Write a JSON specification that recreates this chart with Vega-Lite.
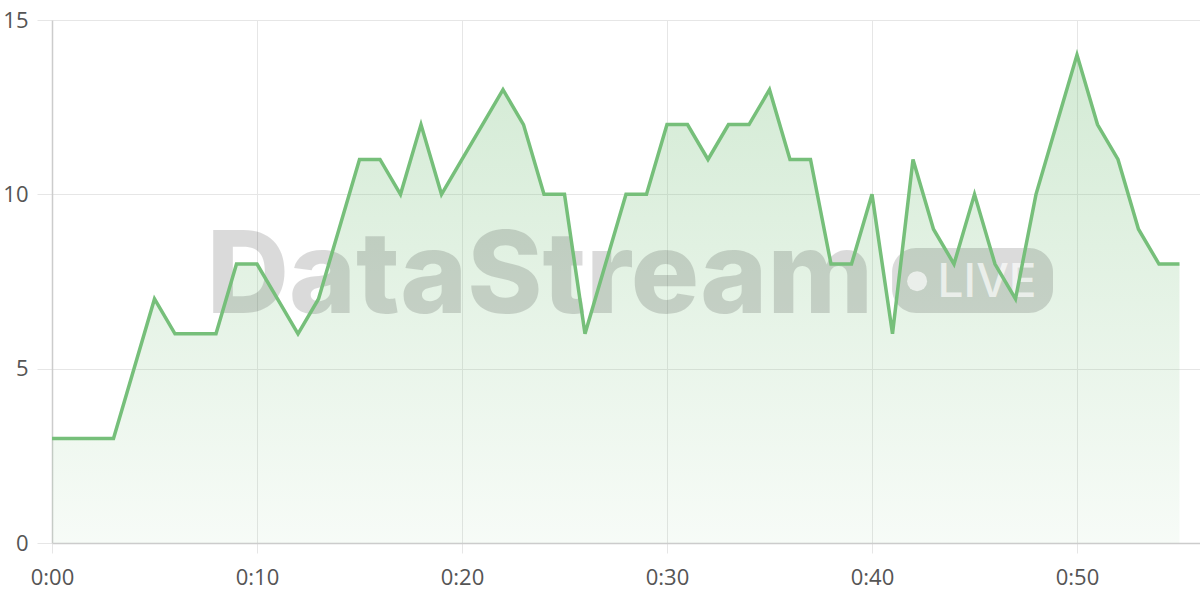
{
  "$schema": "https://vega.github.io/schema/vega-lite/v6.json",
  "width": 1148,
  "height": 523,
  "autosize": {"type": "none"},
  "padding": {"left": 52, "top": 20, "right": 0, "bottom": 57},
  "background": "#ffffff",
  "config": {
    "font": "Open Sans",
    "view": {"stroke": null},
    "axis": {
      "labelFont": "Open Sans",
      "labelFontSize": 22,
      "labelColor": "#555555",
      "labelFlush": false,
      "labelOverlap": false,
      "gridColor": "#e6e6e6",
      "gridWidth": 1,
      "tickColor": "#e6e6e6",
      "domainColor": "#cccccc",
      "domainWidth": 1.5
    }
  },
  "data": {
    "values": [
      {"minute": 0, "count": 3}, {"minute": 1, "count": 3}, {"minute": 2, "count": 3},
      {"minute": 3, "count": 3}, {"minute": 4, "count": 5}, {"minute": 5, "count": 7},
      {"minute": 6, "count": 6}, {"minute": 7, "count": 6}, {"minute": 8, "count": 6},
      {"minute": 9, "count": 8}, {"minute": 10, "count": 8}, {"minute": 11, "count": 7},
      {"minute": 12, "count": 6}, {"minute": 13, "count": 7}, {"minute": 14, "count": 9},
      {"minute": 15, "count": 11}, {"minute": 16, "count": 11}, {"minute": 17, "count": 10},
      {"minute": 18, "count": 12}, {"minute": 19, "count": 10}, {"minute": 20, "count": 11},
      {"minute": 21, "count": 12}, {"minute": 22, "count": 13}, {"minute": 23, "count": 12},
      {"minute": 24, "count": 10}, {"minute": 25, "count": 10}, {"minute": 26, "count": 6},
      {"minute": 27, "count": 8}, {"minute": 28, "count": 10}, {"minute": 29, "count": 10},
      {"minute": 30, "count": 12}, {"minute": 31, "count": 12}, {"minute": 32, "count": 11},
      {"minute": 33, "count": 12}, {"minute": 34, "count": 12}, {"minute": 35, "count": 13},
      {"minute": 36, "count": 11}, {"minute": 37, "count": 11}, {"minute": 38, "count": 8},
      {"minute": 39, "count": 8}, {"minute": 40, "count": 10}, {"minute": 41, "count": 6},
      {"minute": 42, "count": 11}, {"minute": 43, "count": 9}, {"minute": 44, "count": 8},
      {"minute": 45, "count": 10}, {"minute": 46, "count": 8}, {"minute": 47, "count": 7},
      {"minute": 48, "count": 10}, {"minute": 49, "count": 12}, {"minute": 50, "count": 14},
      {"minute": 51, "count": 12}, {"minute": 52, "count": 11}, {"minute": 53, "count": 9},
      {"minute": 54, "count": 8}, {"minute": 55, "count": 8}
    ]
  },
  "layer": [
    {
      "mark": {
        "type": "area",
        "fill": {
          "gradient": "linear",
          "x1": 0, "y1": 0, "x2": 0, "y2": 1,
          "stops": [
            {"offset": 0, "color": "rgba(118,191,122,0.32)"},
            {"offset": 1, "color": "rgba(118,191,122,0.06)"}
          ]
        }
      },
      "encoding": {
        "x": {
          "field": "minute",
          "type": "quantitative",
          "title": null,
          "scale": {"domain": [0, 56], "nice": false, "zero": false},
          "axis": {
            "values": [0, 10, 20, 30, 40, 50],
            "labelExpr": "'0:' + (datum.value < 10 ? '0' : '') + datum.value",
            "tickSize": 10,
            "labelPadding": 14,
            "grid": true
          }
        },
        "y": {
          "field": "count",
          "type": "quantitative",
          "title": null,
          "scale": {"domain": [0, 15], "nice": false},
          "axis": {
            "values": [0, 5, 10, 15],
            "tickSize": 15,
            "labelPadding": 9,
            "grid": true
          }
        }
      }
    },
    {
      "data": {"values": [{"label": "DataStream"}]},
      "mark": {
        "type": "text",
        "align": "center",
        "baseline": "alphabetic",
        "font": "Inter",
        "fontSize": 114,
        "fontWeight": 800,
        "fill": "#000000",
        "opacity": 0.14
      },
      "encoding": {
        "x": {"datum": 23.8, "type": "quantitative", "title": null},
        "y": {"datum": 6.6, "type": "quantitative", "title": null},
        "text": {"field": "label"}
      }
    },
    {
      "data": {"values": [{"label": "badge"}]},
      "mark": {"type": "rect", "cornerRadius": 24, "fill": "#000000", "opacity": 0.14},
      "encoding": {
        "x": {"datum": 40.98, "type": "quantitative", "title": null},
        "x2": {"datum": 48.83},
        "y": {"datum": 8.46, "type": "quantitative", "title": null},
        "y2": {"datum": 6.6}
      }
    },
    {
      "data": {"values": [{"label": "dot"}]},
      "mark": {"type": "point", "shape": "circle", "filled": true, "size": 400, "fill": "#ffffff", "opacity": 0.65},
      "encoding": {
        "x": {"datum": 42.2, "type": "quantitative", "title": null},
        "y": {"datum": 7.51, "type": "quantitative", "title": null}
      }
    },
    {
      "data": {"values": [{"label": "LIVE"}]},
      "mark": {
        "type": "text",
        "align": "left",
        "baseline": "alphabetic",
        "font": "Inter",
        "fontSize": 46,
        "fontWeight": 500,
        "fill": "#ffffff",
        "opacity": 0.65
      },
      "encoding": {
        "x": {"datum": 43.2, "type": "quantitative", "title": null},
        "y": {"datum": 7.06, "type": "quantitative", "title": null},
        "text": {"field": "label"}
      }
    },
    {
      "mark": {"type": "line", "color": "#76bf7a", "strokeWidth": 3.5, "strokeJoin": "miter"},
      "encoding": {
        "x": {"field": "minute", "type": "quantitative", "title": null},
        "y": {"field": "count", "type": "quantitative", "title": null}
      }
    }
  ]
}
